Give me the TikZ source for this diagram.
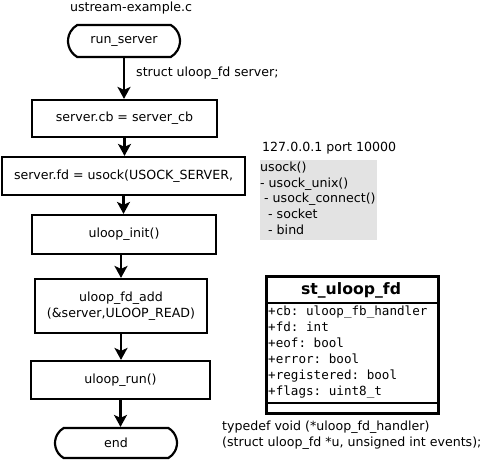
\documentclass[tikz,border=0pt]{standalone}
\usepackage{fontspec}
\setmainfont{DejaVu Sans}
\setmonofont{DejaVu Sans Mono}
\usetikzlibrary{shapes.misc,arrows.meta}
\begin{document}
\begin{tikzpicture}[x=1pt,y=-1pt,
  every node/.style={font=\fontsize{12.6}{15.8}\selectfont, inner sep=0pt},
  procbox/.style={draw, line width=2.2pt},
  termbox/.style={draw, line width=2.2pt, rounded rectangle, rounded rectangle arc length=120},
  flowarrow/.style={line width=2.2pt, -{Stealth[length=12pt,width=13pt,inset=3pt]}},
  umlline/.style={line width=2.8pt},
  monotext/.style={font=\ttfamily\fontsize{12.6}{16}\selectfont}]
\useasboundingbox (0,0) rectangle (486,462);

% flowchart
\node (title) at (131,8) {ustream-example.c};
\node[termbox, minimum width=112, minimum height=32] (runserver) at (124,41) {run\_server};
\node[anchor=west] (structlbl) at (136,73) {struct uloop\_fd server;};
\node[procbox, minimum width=185, minimum height=37] (cb) at (124.5,118.5) {server.cb = server\_cb};
\node[procbox, minimum width=243, minimum height=38] (fd) at (123.5,176) {server.fd = usock(USOCK\_SERVER,};
\node[procbox, minimum width=184, minimum height=39] (init) at (124,234.5) {uloop\_init()};
\node[procbox, minimum width=172, minimum height=54, align=center] (add) at (121,306) {uloop\_fd\_add\\(\&server,ULOOP\_READ)};
\node[procbox, minimum width=179, minimum height=38] (run) at (120.5,380) {uloop\_run()};
\node[termbox, minimum width=122, minimum height=30] (end) at (116,443) {end};

\draw[flowarrow] (runserver.south) -- (runserver.south |- cb.north);
\draw[flowarrow] (cb.south) -- (cb.south |- fd.north);
\draw[flowarrow] (fd.south) -- (fd.south |- init.north);
\draw[flowarrow] (init.south -| add.north) -- (add.north);
\draw[flowarrow] (add.south) -- (add.south |- run.north);
\draw[flowarrow] (run.south) -- (run.south |- end.north);

% usock note
\node[anchor=west] (iplbl) at (262,148) {127.0.0.1 port 10000};
\node[fill=black!11, minimum width=117, minimum height=80, anchor=north west] (usockbg) at (260,160) {};
\node[anchor=north west, align=left] (usocktxt) at (260,161.5) {usock()\\- usock\_unix()\\\hspace*{4pt}- usock\_connect()\\\hspace*{8pt}- socket\\\hspace*{8pt}- bind};

% UML class
\node[draw, umlline, minimum width=172, minimum height=137, anchor=north west] (uml) at (265,275) {};
\coordinate (sepAl) at (265,303);
\coordinate (sepAr) at (437,303);
\coordinate (sepBl) at (265,403);
\coordinate (sepBr) at (437,403);
\draw[umlline] (sepAl) -- (sepAr);
\draw[umlline] (sepBl) -- (sepBr);
\node[font=\bfseries\fontsize{15.7}{18}\selectfont] (umltitle) at (351,290) {st\_uloop\_fd};
\node[monotext, anchor=north west, align=left] (attrs) at (268,306) {+cb: uloop\_fb\_handler\\+fd: int\\+eof: bool\\+error: bool\\+registered: bool\\+flags: uint8\_t};

\node[anchor=west, align=left] (typedef) at (222,435) {typedef void (*uloop\_fd\_handler)\\(struct uloop\_fd *u, unsigned int events);};
\end{tikzpicture}
\end{document}
